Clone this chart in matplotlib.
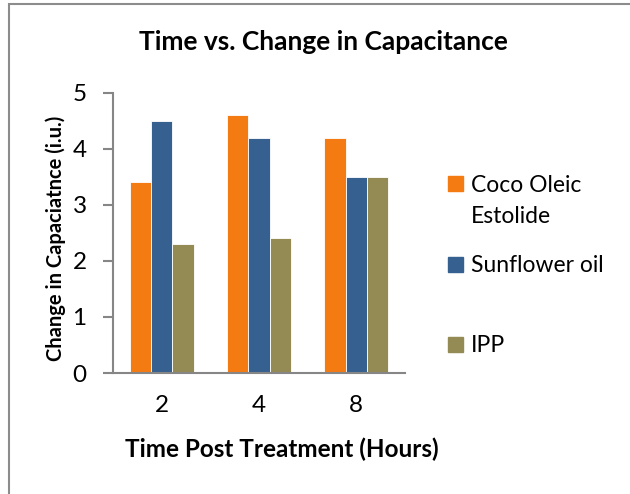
import matplotlib
matplotlib.use("Agg")
import matplotlib.pyplot as plt
from matplotlib.patches import Rectangle
import numpy as np

plt.rcParams['font.family'] = ['Lato', 'DejaVu Sans']

# Datos
times = ["2", "4", "8"]
series = ["Coco Oleic\nEstolide", "Sunflower oil", "IPP"]
coco = [3.4, 4.6, 4.2]
sunflower = [4.5, 4.2, 3.5]
ipp = [2.3, 2.4, 3.5]
colors = ["#F47A12", "#36608F", "#948A54"]

W, H = 630, 494
fig = plt.figure(figsize=(W/100, H/100), dpi=100)
ax = fig.add_axes([113/W, 1 - 373/H, 292/W, (373 - 92.7)/H])

x = np.arange(len(times))
w = 0.22
for k, vals in enumerate([coco, sunflower, ipp]):
    ax.bar(x + (k - 1) * w, vals, width=w, color=colors[k], edgecolor="white", linewidth=0.6)

ax.set_xlim(-0.5, 2.5)
ax.set_ylim(0, 5)
ax.set_yticks(range(6))
ax.set_xticks(x)
ax.set_xticklabels(times)
grey = "#868686"
for s in ["top", "right"]:
    ax.spines[s].set_visible(False)
for s in ["left", "bottom"]:
    ax.spines[s].set_color(grey)
    ax.spines[s].set_linewidth(1.5)
ax.tick_params(axis="y", direction="out", length=7, width=1.5, color=grey, labelsize=17.5, pad=12)
ax.tick_params(axis="x", length=0, labelsize=17.5, pad=16)

ax.set_ylabel("Change in Capaciatnce (i.u.)", fontsize=14.5, fontweight="bold", va="center")
ax.yaxis.set_label_coords(-0.195, 0.4816)
ax.set_xlabel("Time Post Treatment (Hours)", fontsize=17.5, fontweight="bold", va="baseline")
ax.xaxis.set_label_coords(0.579, -0.2997)
fig.text(323/W, 1 - 50/H, "Time vs. Change in Capacitance", ha="center", va="baseline",
         fontsize=19, fontweight="bold")

# Leyenda manual (estilo Excel)
leg_base = [192, 272, 352]
for k, lab in enumerate(series):
    b = leg_base[k]
    fig.patches.append(Rectangle((448/W, 1 - (b - 0.5)/H), 15/W, 15/H,
                                 transform=fig.transFigure, color=colors[k]))
    for i, line in enumerate(lab.split("\n")):
        fig.text(471/W, 1 - (b + i * 31)/H, line, ha="left", va="baseline", fontsize=16.5)

# Borde del grafico
fig.patches.append(Rectangle((8.5/W, -0.1), 1.2, 1 - 3.5/H + 0.1, transform=fig.transFigure,
                             fill=False, edgecolor="#8c8c8c", linewidth=1.5))

fig.savefig("out.png", dpi=100)
